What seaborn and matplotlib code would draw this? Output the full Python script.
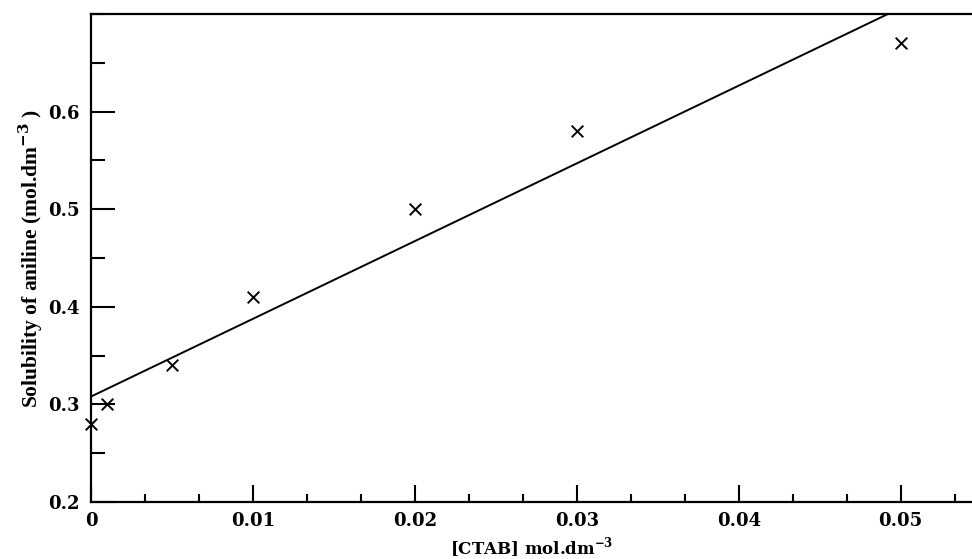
import numpy as np
import pandas as pd
import seaborn as sns
import matplotlib.pyplot as plt
from matplotlib.ticker import MultipleLocator

# CTAB concentration (mol/dm3) vs solubility of aniline (mol/dm3)
ctab = [0.0, 0.001, 0.005, 0.01, 0.02, 0.03, 0.05]
solubility = [0.28, 0.30, 0.34, 0.41, 0.50, 0.58, 0.67]
xticks = [0, 0.01, 0.02, 0.03, 0.04, 0.05]
xticklabels = ['0', '0.01', '0.02', '0.03', '0.04', '0.05']
yticks = [0.2, 0.3, 0.4, 0.5, 0.6]

df = pd.DataFrame({'ctab': ctab, 'sol': solubility})

sns.set_style('ticks')
plt.rcParams['font.family'] = ['Liberation Serif', 'DejaVu Serif']
plt.rcParams['mathtext.fontset'] = 'custom'
plt.rcParams['mathtext.rm'] = 'DejaVu Serif'
plt.rcParams['mathtext.bf'] = 'DejaVu Serif:bold'

fig = plt.figure(figsize=(9.72, 5.59), dpi=100)
ax = fig.add_axes([0.0936, 0.102, 1 - 0.0936, 0.873])
ax.set_xlim(0, 0.0544)
ax.set_ylim(0.2, 0.7)

sns.regplot(data=df, x='ctab', y='sol', ax=ax, ci=None, truncate=False,
            marker='x', color='black',
            scatter_kws={'s': 70, 'linewidths': 1.4, 'alpha': 1, 'clip_on': False},
            line_kws={'linewidth': 1.4})

ax.set_xlim(0, 0.0544)
ax.set_ylim(0.2, 0.7)

ax.set_xticks(xticks)
ax.set_xticklabels(xticklabels, family='DejaVu Serif', fontweight='bold', fontsize=13)
ax.set_yticks(yticks)
ax.set_yticklabels([f'{v:.1f}' for v in yticks], family='DejaVu Serif',
                   fontweight='bold', fontsize=13)
ax.xaxis.set_minor_locator(MultipleLocator(0.01 / 3))
ax.yaxis.set_minor_locator(MultipleLocator(0.05))

ax.tick_params(axis='both', which='both', direction='in', width=1.5, colors='black')
ax.tick_params(axis='x', which='major', length=12, pad=7)
ax.tick_params(axis='x', which='minor', length=6)
ax.tick_params(axis='y', which='major', length=17, pad=8)
ax.tick_params(axis='y', which='minor', length=10)

for side in ['left', 'bottom', 'top']:
    ax.spines[side].set_linewidth(1.6)
    ax.spines[side].set_color('black')
ax.spines['right'].set_visible(False)

ax.set_xlabel('[CTAB] mol.dm$^{\\mathbf{-3}}$', fontsize=12, fontweight='bold',
              family='DejaVu Serif', color='black', labelpad=4)
ax.set_ylabel('Solubility of aniline (mol.dm$^{\\mathbf{-3}}$ )', fontsize=15.5,
              fontweight='bold', color='black', labelpad=2)

fig.savefig('out.png', dpi=100)
